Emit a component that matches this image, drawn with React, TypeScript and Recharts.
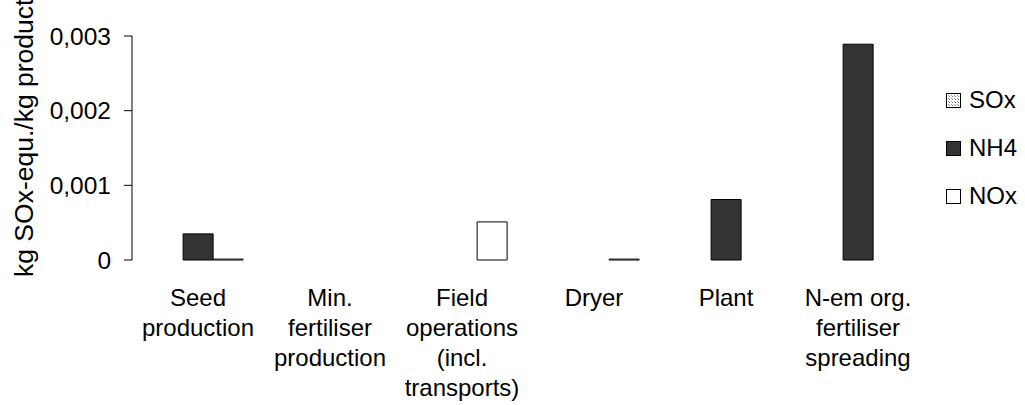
import { Bar, BarChart, Legend, XAxis, YAxis } from "recharts";

// process steps along the x axis ("\n" splits the label lines)
const categories = [
  "Seed\nproduction",
  "Min.\nfertiliser\nproduction",
  "Field\noperations\n(incl.\ntransports)",
  "Dryer",
  "Plant",
  "N-em org.\nfertiliser\nspreading",
];

// kg SOx-equ. per kg product
const soxValues = [0, 0, 0, 0, 0, 0];
const nh4Values = [0.00035, 0, 0, 0, 0.00081, 0.00289];
const noxValues = [0.000012, 0, 0.00051, 0.000012, 0, 0];

const yTicks = [0, 0.001, 0.002, 0.003];
const edgeTicks = [0, 1, 2, 3, 4, 5, 6];

const data = categories.map((name, i) => ({
  name,
  SOx: soxValues[i],
  NH4: nh4Values[i],
  NOx: noxValues[i],
}));

const FONT = "'Liberation Sans', Arial, Helvetica, sans-serif";
const TICK_SIZE = 24.5;

const formatTick = (v: number) => (v === 0 ? "0" : v.toFixed(3).replace(".", ","));

// Arial advance widths for digits and the decimal comma
const emWidth = (s: string) =>
  s.split("").reduce((sum, ch) => sum + (ch === "," ? 0.278 : 0.556), 0);

const CategoryTick = (props: any) => {
  const { x, y, payload } = props;
  const lines = String(payload.value).split("\n");
  return (
    <text x={x} y={y + 46} textAnchor="middle" fontSize={24} fontFamily={FONT} fill="#000">
      {lines.map((line, i) => (
        <tspan key={i} x={x} dy={i === 0 ? 0 : 30}>
          {line}
        </tspan>
      ))}
    </text>
  );
};

const ValueTick = (props: any) => {
  const { x, y, payload } = props;
  const label = formatTick(payload.value);
  return (
    <text
      x={x}
      y={y}
      dy="0.36em"
      textAnchor="end"
      fontSize={TICK_SIZE}
      fontFamily={FONT}
      fill="#000"
      textLength={emWidth(label) * TICK_SIZE}
      lengthAdjust="spacingAndGlyphs"
    >
      {label}
    </text>
  );
};

const AxisTitle = (props: any) => {
  const { viewBox } = props;
  const x = viewBox.x + 33;
  const y = viewBox.y + viewBox.height + 17;
  return (
    <text
      x={x}
      y={y}
      transform={`rotate(-90, ${x}, ${y})`}
      textAnchor="start"
      fontSize={26.5}
      fontFamily={FONT}
      fill="#000"
    >
      kg SOx-equ./kg product
    </text>
  );
};

const legendItems = [
  { name: "SOx", fill: "url(#soxDots)" },
  { name: "NH4", fill: "#333333" },
  { name: "NOx", fill: "#ffffff" },
];

const LegendBox = () => (
  <div style={{ fontFamily: FONT, fontSize: 24, color: "#000" }}>
    {legendItems.map((item) => (
      <div key={item.name} style={{ display: "flex", alignItems: "center", height: 48 }}>
        <svg width={15} height={15} style={{ display: "block" }}>
          <defs>
            <pattern id="soxDots" width={3} height={3} patternUnits="userSpaceOnUse">
              <rect width={3} height={3} fill="#ffffff" />
              <rect width={1} height={1} fill="#777777" />
              <rect x={2} y={2} width={1} height={1} fill="#999999" />
            </pattern>
          </defs>
          <rect x={0.5} y={0.5} width={14} height={14} fill={item.fill} stroke="#000" strokeWidth={1} />
        </svg>
        <span style={{ marginLeft: 8 }}>{item.name}</span>
      </div>
    ))}
  </div>
);

export default function App() {
  return (
    <div style={{ position: "absolute", left: 0, top: 0, background: "#fff" }}>
      <BarChart
        width={1025}
        height={405}
        data={data}
        margin={{ top: 36, right: 101, bottom: 0, left: 0 }}
        barCategoryGap="16%"
        barGap={0}
      >
        {/* boundary ticks between categories */}
        <XAxis
          xAxisId="edges"
          type="number"
          domain={[0, 6]}
          ticks={edgeTicks}
          tick={false}
          tickSize={8}
          height={0}
          stroke="#000"
          allowDataOverflow
        />
        <XAxis
          dataKey="name"
          interval={0}
          tickLine={false}
          axisLine={false}
          tickSize={0}
          tickMargin={0}
          height={145}
          tick={<CategoryTick />}
        />
        {/* gray frame along top and right */}
        <XAxis xAxisId="top" dataKey="name" orientation="top" height={0} tick={false} tickLine={false} stroke="#808080" />
        <YAxis
          yAxisId="right"
          orientation="right"
          width={0}
          domain={[0, 0.003]}
          tick={false}
          tickLine={false}
          stroke="#808080"
        />
        <YAxis
          width={132}
          domain={[0, 0.003]}
          ticks={yTicks}
          tickSize={8}
          tickMargin={13}
          stroke="#000"
          tick={<ValueTick />}
          label={<AxisTitle />}
        />
        <Legend
          layout="vertical"
          align="center"
          verticalAlign="middle"
          content={<LegendBox />}
          wrapperStyle={{ left: 946, top: 76, width: 79 }}
        />
        <Bar dataKey="SOx" fill="url(#soxDots)" stroke="#000" strokeWidth={1} isAnimationActive={false} />
        <Bar dataKey="NH4" fill="#333333" stroke="#000" strokeWidth={1} isAnimationActive={false} />
        <Bar dataKey="NOx" fill="#ffffff" stroke="#000" strokeWidth={1} isAnimationActive={false} />
      </BarChart>
    </div>
  );
}
